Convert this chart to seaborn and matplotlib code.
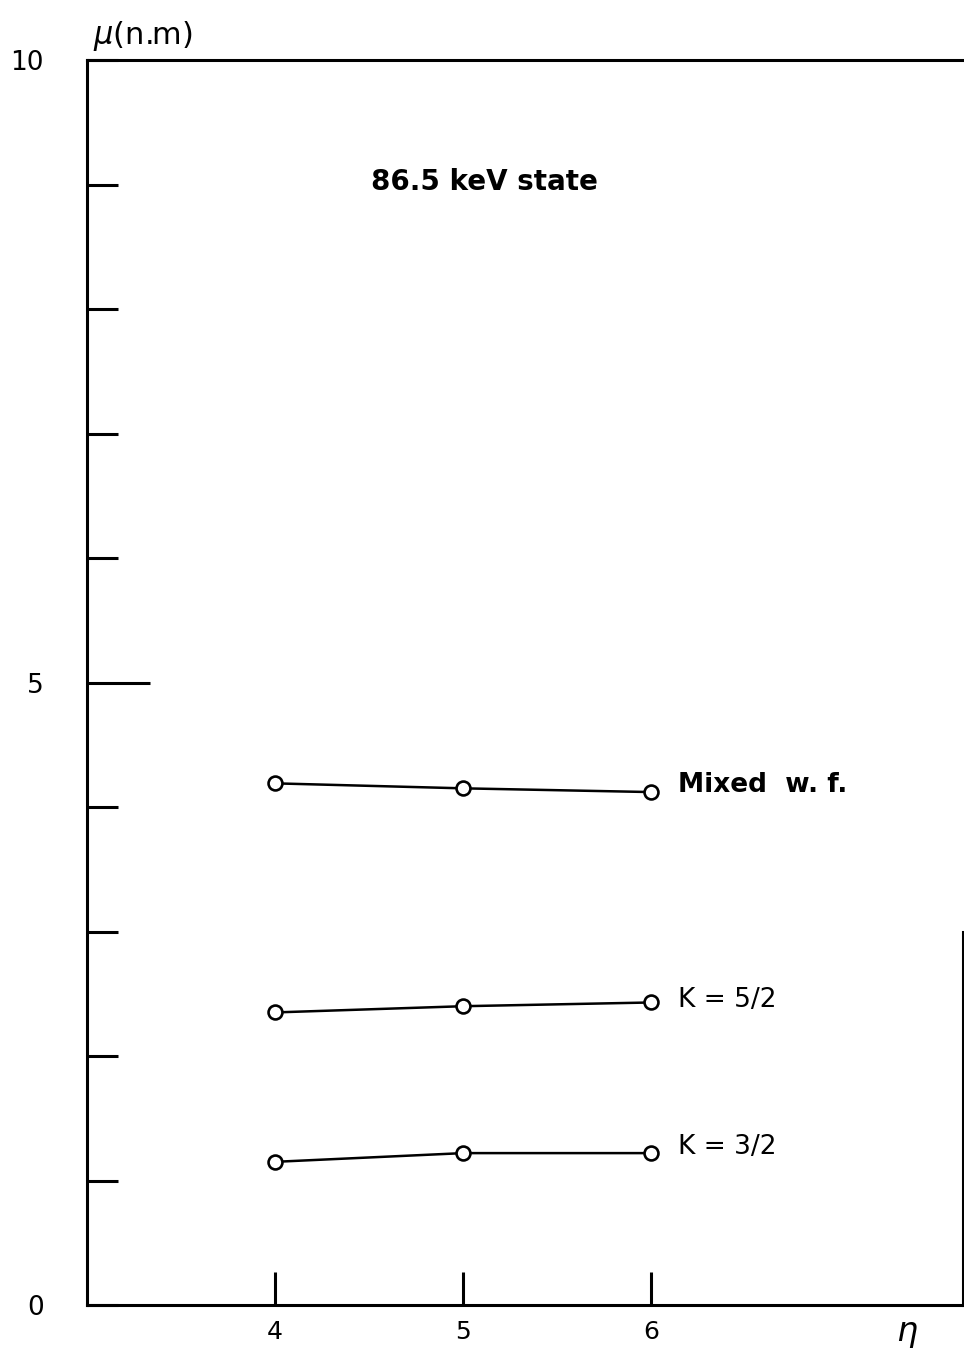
import matplotlib
matplotlib.use("Agg")
import matplotlib.pyplot as plt
import seaborn as sns
import pandas as pd

# data
eta = [4, 5, 6]
mixed_wf = [4.19, 4.15, 4.12]
k_5_2 = [2.35, 2.40, 2.43]
k_3_2 = [1.15, 1.22, 1.22]
series_names = ["Mixed w.f.", "K = 5/2", "K = 3/2"]
series_labels = ["Mixed  w. f.", "K = 5/2", "K = 3/2"]
y_ticks = list(range(0, 11))
y_tick_labels = ["0", "", "", "", "", "5", "", "", "", "", "10"]

df = pd.DataFrame({
    "eta": eta * 3,
    "mu": mixed_wf + k_5_2 + k_3_2,
    "series": [s for s in series_names for _ in eta],
})

sns.set_style("ticks")
plt.rcParams["font.family"] = ["DejaVu Sans"]
plt.rcParams["text.color"] = "black"
plt.rcParams["xtick.color"] = "black"
plt.rcParams["ytick.color"] = "black"

fig = plt.figure(figsize=(9.64, 13.55), dpi=100)
ax = fig.add_axes([0.0903, 0.0369, 0.909, 0.9188])

sns.lineplot(data=df, x="eta", y="mu", units="series", estimator=None,
             color="black", lw=1.8, marker="o", markersize=10,
             markerfacecolor="white", markeredgecolor="black",
             markeredgewidth=1.9, ax=ax)

ax.set_xlim(3.0, 7.66)
ax.set_ylim(0, 10)

ax.set_xticks(eta)
ax.set_xticklabels([str(v) for v in eta], fontsize=18)
ax.set_yticks(y_ticks)
ax.set_yticklabels(y_tick_labels, fontsize=19)
ax.tick_params(axis="y", direction="in", length=22, width=2.2, pad=31)
ax.tick_params(axis="x", direction="in", length=24, width=2.2, pad=11)
# longer tick at 5
ax.yaxis.get_major_ticks()[5].tick1line.set_markersize(45)

for side in ["left", "bottom", "top", "right"]:
    ax.spines[side].set_linewidth(2.2)
    ax.spines[side].set_color("black")
ax.spines["right"].set_bounds(0, 3.0)

ax.set_xlabel("")
ax.set_ylabel("")

# series labels at the right end of each curve
last_vals = [mixed_wf[-1], k_5_2[-1], k_3_2[-1]]
offsets = [0.06, 0.02, 0.05]
for lab, v, off in zip(series_labels, last_vals, offsets):
    weight = "bold" if lab.startswith("Mixed") else "normal"
    ax.text(6.14, v + off, lab, fontsize=19, fontweight=weight,
            ha="left", va="center")

ax.text(4.51, 9.02, "86.5 keV state", fontsize=20, fontweight="bold",
        ha="left", va="center")

ax.text(3.03, 10.06, r"$\mu$(n.m)", fontsize=22, ha="left", va="bottom",
        clip_on=False)
ax.text(7.36, -0.1, r"$\eta$", fontsize=24, ha="center", va="top",
        clip_on=False)

fig.savefig("out.png", dpi=100, facecolor="white")
